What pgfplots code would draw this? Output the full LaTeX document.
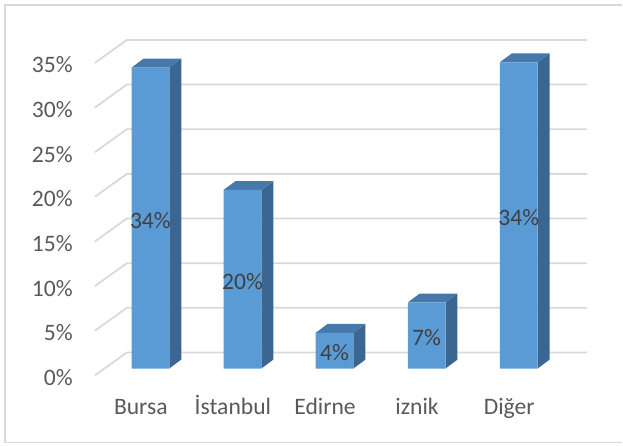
\documentclass[border=0pt]{standalone}
\usepackage{pgfplots}
\pgfplotsset{compat=1.18}
\usepackage{fontspec}
\setmainfont{Carlito}
\definecolor{barfront}{HTML}{5B9BD5}
\definecolor{barside}{HTML}{3A6691}
\definecolor{bartop}{HTML}{4778AA}
\definecolor{gridc}{HTML}{D9D9D9}
\definecolor{ticktext}{HTML}{595959}
\definecolor{labeltext}{HTML}{404040}
\begin{document}
\begin{tikzpicture}
\begin{axis}[
  x=92.2bp, y=8.94bp,
  xmin=-0.603, xmax=4.744, ymin=-0.78, ymax=36.8,
  clip=false,
  axis line style={draw=none},
  major tick length=0pt,
  font=\fontsize{23.7}{28}\selectfont,
  /pgf/number format/assume math mode=true,
  xtick={0,1,2,3,4},
  xticklabels={Bursa,İstanbul,Edirne,iznik,Diğer},
  xticklabel style={anchor=base, inner sep=0pt, xshift=-9.6bp, yshift=-39bp, text=ticktext},
  ytick={0,5,10,15,20,25,30,35},
  yticklabels={0\%,5\%,10\%,15\%,20\%,25\%,30\%,35\%},
  yticklabel style={anchor=east, inner sep=0pt, xshift=-22bp, yshift=-9bp, text=ticktext},
]
% border and page extent
\path (axis cs:-1.6334,41.275) rectangle (axis cs:5.1237,-8.613);
\draw[gridc, line width=1.6bp] (axis cs:5.1237,40.716) -- (axis cs:-1.5792,40.716) -- (axis cs:-1.5792,-8.277) -- (axis cs:5.1237,-8.277);
% grid lines (side diagonal + back wall)
\addplot[gridc, line width=1.8bp, mark=none] coordinates {(-0.603,-0.77) (-0.256,1.80) (4.744,1.80)};
\addplot[gridc, line width=1.8bp, mark=none] coordinates {(-0.603,4.23) (-0.256,6.80) (4.744,6.80)};
\addplot[gridc, line width=1.8bp, mark=none] coordinates {(-0.603,9.23) (-0.256,11.80) (4.744,11.80)};
\addplot[gridc, line width=1.8bp, mark=none] coordinates {(-0.603,14.23) (-0.256,16.80) (4.744,16.80)};
\addplot[gridc, line width=1.8bp, mark=none] coordinates {(-0.603,19.23) (-0.256,21.80) (4.744,21.80)};
\addplot[gridc, line width=1.8bp, mark=none] coordinates {(-0.603,24.23) (-0.256,26.80) (4.744,26.80)};
\addplot[gridc, line width=1.8bp, mark=none] coordinates {(-0.603,29.23) (-0.256,31.80) (4.744,31.80)};
\addplot[gridc, line width=1.8bp, mark=none] coordinates {(-0.603,34.23) (-0.256,36.80) (4.744,36.80)};
% side faces
\addplot[fill=barside, draw=none, mark=none] coordinates {(0.205,0) (0.335,1.0) (0.335,34.7) (0.205,33.7)} -- cycle;
\addplot[fill=barside, draw=none, mark=none] coordinates {(1.205,0) (1.335,1.0) (1.335,21.0) (1.205,20.0)} -- cycle;
\addplot[fill=barside, draw=none, mark=none] coordinates {(2.205,0) (2.335,1.0) (2.335,5.0) (2.205,4.0)} -- cycle;
\addplot[fill=barside, draw=none, mark=none] coordinates {(3.205,0) (3.335,1.0) (3.335,8.4) (3.205,7.4)} -- cycle;
\addplot[fill=barside, draw=none, mark=none] coordinates {(4.205,0) (4.335,1.0) (4.335,35.3) (4.205,34.3)} -- cycle;
% top faces
\addplot[fill=bartop, draw=none, mark=none] coordinates {(-0.205,33.7) (-0.075,34.7) (0.335,34.7) (0.205,33.7)} -- cycle;
\addplot[fill=bartop, draw=none, mark=none] coordinates {(0.795,20.0) (0.925,21.0) (1.335,21.0) (1.205,20.0)} -- cycle;
\addplot[fill=bartop, draw=none, mark=none] coordinates {(1.795,4.0) (1.925,5.0) (2.335,5.0) (2.205,4.0)} -- cycle;
\addplot[fill=bartop, draw=none, mark=none] coordinates {(2.795,7.4) (2.925,8.4) (3.335,8.4) (3.205,7.4)} -- cycle;
\addplot[fill=bartop, draw=none, mark=none] coordinates {(3.795,34.3) (3.925,35.3) (4.335,35.3) (4.205,34.3)} -- cycle;
% front faces
\addplot[ybar, bar width=0.41, fill=barfront, draw=none] coordinates {(0,33.7) (1,20.0) (2,4.0) (3,7.4) (4,34.3)};
% data labels
\addplot[draw=none, mark=none, point meta=explicit,
  nodes near coords={\pgfmathprintnumber{\pgfplotspointmeta}\%},
  every node near coord/.append style={anchor=center, yshift=-2bp, text=labeltext, font=\fontsize{23.7}{28}\selectfont, /pgf/number format/assume math mode=true}]
  coordinates {(0,16.85) [34] (1,10.0) [20] (2,2.0) [4] (3,3.7) [7] (4,17.15) [34]};
\end{axis}
\end{tikzpicture}
\end{document}
